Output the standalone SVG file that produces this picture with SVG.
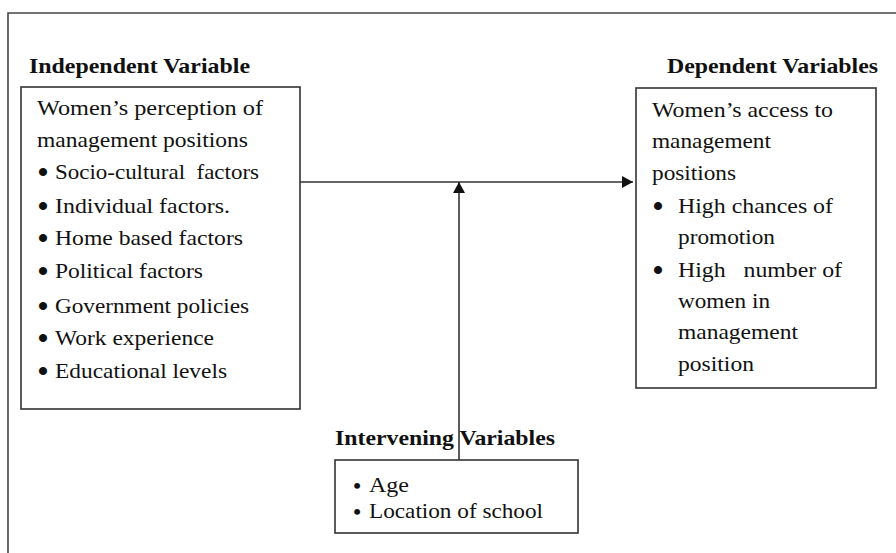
<svg xmlns="http://www.w3.org/2000/svg" width="896" height="553" viewBox="0 0 896 553">
<style>
.box{fill:#fff;stroke:#333;stroke-width:1.6}
.frame{fill:none;stroke:#444;stroke-width:1.6}
.conn{stroke:#333;stroke-width:1.6;fill:none}
text{font-family:"Liberation Serif","Times New Roman",serif;fill:#111}
.h{font-size:21px;font-weight:bold}
.t{font-size:21px;white-space:pre}
.b{font-size:30px;text-anchor:middle;font-weight:bold}
.bs{font-size:22px;text-anchor:middle;font-weight:bold}
</style>
<defs>
<marker id="ah" markerUnits="userSpaceOnUse" markerWidth="12" markerHeight="12" refX="11" refY="6" orient="auto">
<path d="M0,0 L11,6 L0,12 z" fill="#111"/>
</marker>
</defs>
<rect width="896" height="553" fill="#fff"/>
<path class="frame" d="M8,553 V13 H896"/>

<g id="connectors">
<line class="conn" x1="300" y1="182" x2="633" y2="182" marker-end="url(#ah)"/>
<line class="conn" x1="459" y1="460" x2="459" y2="182" marker-end="url(#ah)"/>
</g>

<g id="independent">
<text class="h" x="29" y="73" textLength="221" lengthAdjust="spacingAndGlyphs">Independent Variable</text>
<rect class="box" x="21" y="87" width="279" height="322"/>
<text class="t" x="37" y="115" textLength="226" lengthAdjust="spacingAndGlyphs">Women’s perception of</text>
<text class="t" x="37" y="147" textLength="211" lengthAdjust="spacingAndGlyphs">management positions</text>
<text class="b" x="43" y="182">•</text>
<text class="t" x="55" y="179" textLength="204" lengthAdjust="spacingAndGlyphs">Socio-cultural  factors</text>
<text class="b" x="43" y="216">•</text>
<text class="t" x="55" y="213" textLength="175" lengthAdjust="spacingAndGlyphs">Individual factors.</text>
<text class="b" x="43" y="248">•</text>
<text class="t" x="55" y="245" textLength="188" lengthAdjust="spacingAndGlyphs">Home based factors</text>
<text class="b" x="43" y="281">•</text>
<text class="t" x="55" y="278" textLength="148" lengthAdjust="spacingAndGlyphs">Political factors</text>
<text class="b" x="43" y="316">•</text>
<text class="t" x="55" y="313" textLength="194" lengthAdjust="spacingAndGlyphs">Government policies</text>
<text class="b" x="43" y="348">•</text>
<text class="t" x="55" y="345" textLength="159" lengthAdjust="spacingAndGlyphs">Work experience</text>
<text class="b" x="43" y="381">•</text>
<text class="t" x="55" y="378" textLength="172" lengthAdjust="spacingAndGlyphs">Educational levels</text>
</g>

<g id="dependent">
<text class="h" x="667" y="73" textLength="211" lengthAdjust="spacingAndGlyphs">Dependent Variables</text>
<rect class="box" x="636" y="88" width="240" height="300"/>
<text class="t" x="652" y="117" textLength="181" lengthAdjust="spacingAndGlyphs">Women’s access to</text>
<text class="t" x="652" y="148" textLength="119" lengthAdjust="spacingAndGlyphs">management</text>
<text class="t" x="652" y="180" textLength="84" lengthAdjust="spacingAndGlyphs">positions</text>
<text class="b" x="658" y="216">•</text>
<text class="t" x="678" y="213" textLength="155" lengthAdjust="spacingAndGlyphs">High chances of</text>
<text class="t" x="678" y="244" textLength="97" lengthAdjust="spacingAndGlyphs">promotion</text>
<text class="b" x="658" y="280">•</text>
<text class="t" x="678" y="277" textLength="164" lengthAdjust="spacingAndGlyphs">High   number of</text>
<text class="t" x="678" y="308" textLength="92" lengthAdjust="spacingAndGlyphs">women in</text>
<text class="t" x="678" y="339" textLength="120" lengthAdjust="spacingAndGlyphs">management</text>
<text class="t" x="678" y="371" textLength="76" lengthAdjust="spacingAndGlyphs">position</text>
</g>

<g id="intervening">
<text class="h" x="335" y="445" textLength="220" lengthAdjust="spacingAndGlyphs">Intervening Variables</text>
<rect class="box" x="335" y="460" width="243" height="73"/>
<text class="bs" x="357" y="493">•</text>
<text class="t" x="369" y="492" textLength="40" lengthAdjust="spacingAndGlyphs">Age</text>
<text class="bs" x="357" y="519">•</text>
<text class="t" x="369" y="518" textLength="174" lengthAdjust="spacingAndGlyphs">Location of school</text>
</g>
</svg>
